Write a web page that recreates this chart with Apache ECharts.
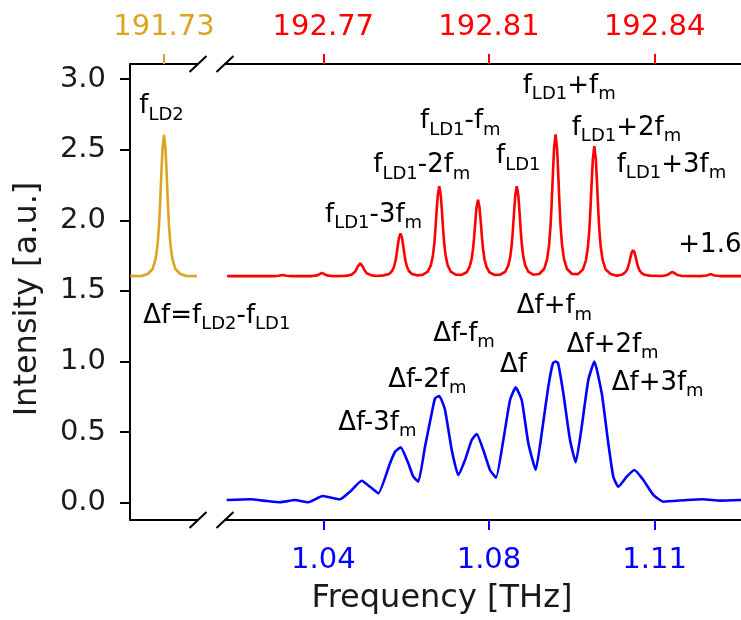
<!DOCTYPE html>
<html>
<head>
<meta charset="utf-8">
<script src="https://cdn.jsdelivr.net/npm/echarts@6/dist/echarts.min.js"></script>
<style>html,body{margin:0;padding:0;background:#fff}#chart{width:741px;height:620px}</style>
</head>
<body>
<div id="chart"></div>
<script>
// ---------------- data ----------------
const yTickVals = [0, 0.5, 1, 1.5, 2, 2.5, 3];
const yTickLabels = ['0.0', '0.5', '1.0', '1.5', '2.0', '2.5', '3.0'];
const ld2TickVals = [191.73];
const ld2TickLabels = ['191.73'];
const topTickVals = [192.77167, 192.805, 192.83833];
const topTickLabels = ['192.77', '192.81', '192.84'];
const bottomTickVals = [1.04167, 1.075, 1.10833];
const bottomTickLabels = ['1.04', '1.08', '1.11'];

// LD2 spectrum (top-left axis, THz), offset +1.6
const ld2Spectrum = [
  [191.7232,1.605],[191.7255,1.606],[191.7267,1.620],[191.7277,1.655],[191.7283,1.725],[191.7287,1.825],
  [191.7290,1.965],[191.7292,2.105],[191.7295,2.355],[191.7297,2.505],[191.7300,2.605],[191.7303,2.505],
  [191.7305,2.355],[191.7308,2.105],[191.7310,1.965],[191.7313,1.825],[191.7317,1.725],[191.7323,1.655],
  [191.7333,1.620],[191.7345,1.606],[191.7366,1.605]
];

// LD1 comb spectrum (top-right axis, THz), offset +1.6
const ld1Spectrum = [
  [192.7523,1.605],
  [192.7617,1.605],[192.7627,1.607],[192.7631,1.610],[192.7635,1.612],[192.7639,1.610],[192.7643,1.607],[192.7653,1.605],
  [192.7694,1.605],[192.7704,1.610],[192.7709,1.618],[192.7714,1.628],[192.7719,1.618],[192.7724,1.610],[192.7734,1.605],
  [192.7758,1.606],[192.7768,1.610],[192.7774,1.616],[192.7778,1.625],[192.7781,1.637],[192.7783,1.650],[192.7786,1.673],[192.7788,1.686],
  [192.7791,1.695],[192.7794,1.686],[192.7796,1.673],[192.7799,1.650],[192.7801,1.637],[192.7804,1.625],[192.7808,1.616],[192.7814,1.610],[192.7824,1.606],
  [192.7839,1.610],[192.7849,1.620],[192.7855,1.641],[192.7859,1.671],[192.7862,1.714],[192.7864,1.756],[192.7867,1.832],[192.7869,1.877],
  [192.7872,1.907],[192.7875,1.877],[192.7877,1.832],[192.7880,1.756],[192.7882,1.714],[192.7885,1.671],[192.7889,1.641],[192.7895,1.620],[192.7905,1.610],
  [192.7917,1.615],[192.7927,1.637],[192.7933,1.681],[192.7937,1.745],[192.7940,1.834],[192.7942,1.924],[192.7945,2.083],[192.7947,2.178],
  [192.7950,2.242],[192.7953,2.178],[192.7955,2.083],[192.7958,1.924],[192.7960,1.834],[192.7963,1.745],[192.7967,1.681],[192.7973,1.637],[192.7983,1.615],
  [192.7995,1.613],[192.8005,1.632],[192.8011,1.670],[192.8015,1.724],[192.8018,1.799],[192.8020,1.875],[192.8023,2.010],[192.8025,2.091],
  [192.8028,2.145],[192.8031,2.091],[192.8033,2.010],[192.8036,1.875],[192.8038,1.799],[192.8041,1.724],[192.8045,1.670],[192.8051,1.632],[192.8061,1.613],
  [192.8073,1.615],[192.8083,1.637],[192.8089,1.681],[192.8093,1.745],[192.8096,1.834],[192.8098,1.924],[192.8101,2.083],[192.8103,2.178],
  [192.8106,2.242],[192.8109,2.178],[192.8111,2.083],[192.8114,1.924],[192.8116,1.834],[192.8119,1.745],[192.8123,1.681],[192.8129,1.637],[192.8139,1.615],
  [192.8151,1.620],[192.8161,1.655],[192.8167,1.725],[192.8171,1.826],[192.8174,1.966],[192.8176,2.107],[192.8179,2.357],[192.8181,2.508],
  [192.8184,2.608],[192.8187,2.508],[192.8189,2.357],[192.8192,2.107],[192.8194,1.966],[192.8197,1.826],[192.8201,1.725],[192.8207,1.655],[192.8217,1.620],
  [192.8229,1.619],[192.8239,1.651],[192.8245,1.715],[192.8249,1.807],[192.8252,1.936],[192.8254,2.065],[192.8257,2.295],[192.8259,2.433],
  [192.8262,2.525],[192.8265,2.433],[192.8267,2.295],[192.8270,2.065],[192.8272,1.936],[192.8275,1.807],[192.8279,1.715],[192.8285,1.651],[192.8295,1.619],
  [192.8307,1.608],[192.8317,1.614],[192.8323,1.627],[192.8327,1.645],[192.8330,1.671],[192.8332,1.697],[192.8335,1.743],[192.8337,1.771],
  [192.8340,1.789],[192.8343,1.771],[192.8345,1.743],[192.8348,1.697],[192.8350,1.671],[192.8353,1.645],[192.8357,1.627],[192.8363,1.614],[192.8373,1.608],
  [192.8399,1.606],[192.8409,1.613],[192.8414,1.624],[192.8419,1.635],[192.8424,1.624],[192.8429,1.613],[192.8439,1.606],
  [192.8478,1.605],[192.8488,1.609],[192.8492,1.614],[192.8496,1.619],[192.8500,1.614],[192.8504,1.609],[192.8514,1.605],
  [192.8558,1.605]
];

// Beat (difference-frequency) spectrum (bottom-right axis, THz)
const beatSpectrum = [
  [1.02223,0.019],[1.02692,0.024],[1.03028,0.012],[1.03296,0.003],[1.03598,0.019],[1.03865,0.003],
  [1.04155,0.047],[1.04503,0.024],[1.04704,0.078],[1.04940,0.156],[1.05107,0.113],[1.05274,0.066],
  [1.05509,0.279],[1.05610,0.361],[1.05724,0.392],[1.05877,0.279],[1.05978,0.184],[1.06079,0.149],
  [1.06213,0.397],[1.06348,0.633],[1.06415,0.739],[1.06501,0.756],[1.06616,0.657],[1.06751,0.373],
  [1.06883,0.196],[1.07018,0.302],[1.07153,0.444],[1.07254,0.487],[1.07386,0.373],[1.07521,0.232],
  [1.07642,0.177],[1.07789,0.444],[1.07924,0.727],[1.08038,0.817],[1.08159,0.727],[1.08292,0.421],
  [1.08441,0.232],[1.08561,0.491],[1.08694,0.822],[1.08789,0.990],[1.08843,0.999],[1.08889,0.990],
  [1.08996,0.775],[1.09131,0.444],[1.09246,0.286],[1.09366,0.538],[1.09499,0.869],[1.09620,0.999],
  [1.09769,0.775],[1.09901,0.421],[1.10002,0.184],[1.10103,0.113],[1.10272,0.184],[1.10425,0.232],
  [1.10606,0.161],[1.10807,0.055],[1.11008,0.007],[1.11479,0.019],[1.11813,0.024],[1.12149,0.015],
  [1.12571,0.019]
];

// annotation texts (mathtext-like: _{...} = subscript)
const annotationTexts = [
  'f_{LD2}', 'Δf=f_{LD2}-f_{LD1}',
  'f_{LD1}-3f_{m}', 'f_{LD1}-2f_{m}', 'f_{LD1}-f_{m}', 'f_{LD1}', 'f_{LD1}+f_{m}', 'f_{LD1}+2f_{m}', 'f_{LD1}+3f_{m}', '+1.6',
  'Δf-3f_{m}', 'Δf-2f_{m}', 'Δf-f_{m}', 'Δf', 'Δf+f_{m}', 'Δf+2f_{m}', 'Δf+3f_{m}'
];

// ---------------- layout / style ----------------
const annotationPos = [
  [139.3,113.3],[143.3,322.7],
  [325,221.7],[373.3,172.3],[420,128.3],[496,163.3],[522.7,92.5],[571.7,135],[616.7,171.7],[678.3,251.7],
  [338.3,430],[388.3,386.7],[433.3,341],[500,371.7],[516.7,313.3],[566.7,351.7],[611.7,390]
];
const FONT = '"DejaVu Sans", sans-serif';
const GOLD = '#DAA520', RED = '#FF0000', BLUE = '#0000FF';
const G = { top: 64, bottom: 520, leftL: 130, rightL: 198, leftR: 225, W: 741, H: 620 };
const Y_MIN = -0.1225, Y_MAX = 3.107;
const MAIN_FS = 26, SUB_FS = 18, SUB_SHIFT = 6.3;

const ctx = document.createElement('canvas').getContext('2d');
function measure(text, fs) { ctx.font = fs + 'px ' + FONT; ctx.textBaseline = 'middle'; return ctx.measureText(text); }
const dMain = measure('H', MAIN_FS).actualBoundingBoxDescent;
const dSub = measure('H', SUB_FS).actualBoundingBoxDescent;

function parseTokens(s) {
  const out = []; const re = /_\{([^}]*)\}/g; let last = 0, m;
  while ((m = re.exec(s))) { if (m.index > last) out.push([s.slice(last, m.index), false]); out.push([m[1], true]); last = re.lastIndex; }
  if (last < s.length) out.push([s.slice(last), false]);
  return out;
}
const graphics = [];
annotationTexts.forEach((t, i) => {
  let [x, base] = annotationPos[i];
  parseTokens(t).forEach(([txt, sub]) => {
    const fs = sub ? SUB_FS : MAIN_FS;
    const y = sub ? base + SUB_SHIFT - dSub : base - dMain;
    graphics.push({ type: 'text', x: x, y: y, silent: true,
      style: { text: txt, fontSize: fs, fontFamily: FONT, fill: '#000', align: 'left', verticalAlign: 'middle' } });
    x += measure(txt, fs).width;
  });
});
// broken-axis marks
[G.rightL, G.leftR].forEach(cx => [G.top, G.bottom].forEach(cy => {
  graphics.push({ type: 'line', silent: true, shape: { x1: cx - 8.5, y1: cy + 8, x2: cx + 8.5, y2: cy - 8 },
    style: { stroke: '#000', lineWidth: 2 } });
}));
// axis titles
graphics.push({ type: 'text', x: 442, y: 599, silent: true,
  style: { text: 'Frequency [THz]', fontSize: 32, fontFamily: FONT, fill: '#1a1a1a', align: 'center', verticalAlign: 'middle' } });
graphics.push({ type: 'text', x: 28, y: 299, rotation: Math.PI / 2, silent: true,
  style: { text: 'Intensity [a.u.]', fontSize: 32, fontFamily: FONT, fill: '#1a1a1a', align: 'center', verticalAlign: 'middle' } });

function fmt(vals, labels) {
  return v => { let bi = 0, bd = Infinity; vals.forEach((t, i) => { const d = Math.abs(t - v); if (d < bd) { bd = d; bi = i; } }); return labels[bi]; };
}
const lineAxis = { show: true, onZero: false, lineStyle: { color: '#000', width: 2 } };

const option = {
  animation: false,
  backgroundColor: '#fff',
  grid: [
    { left: G.leftL, width: G.rightL - G.leftL, top: G.top, height: G.bottom - G.top },
    { left: G.leftR, width: G.W - G.leftR, top: G.top, height: G.bottom - G.top }
  ],
  xAxis: [
    { gridIndex: 0, type: 'value', position: 'top', min: 191.72316, max: 191.73684, axisLine: lineAxis,
      axisTick: { show: true, customValues: ld2TickVals, length: 10, lineStyle: { color: GOLD, width: 2 } },
      axisLabel: { customValues: ld2TickVals, formatter: fmt(ld2TickVals, ld2TickLabels), color: GOLD, fontSize: 29, fontFamily: FONT, margin: 22 },
      splitLine: { show: false } },
    { gridIndex: 0, type: 'value', position: 'bottom', min: 191.72316, max: 191.73684, axisLine: lineAxis,
      axisTick: { show: false }, axisLabel: { show: false }, splitLine: { show: false } },
    { gridIndex: 1, type: 'value', position: 'top', min: 192.75189, max: 192.85571, axisLine: lineAxis,
      axisTick: { show: true, customValues: topTickVals, length: 10, lineStyle: { color: RED, width: 2 } },
      axisLabel: { customValues: topTickVals, formatter: fmt(topTickVals, topTickLabels), color: RED, fontSize: 29, fontFamily: FONT, margin: 22 },
      splitLine: { show: false } },
    { gridIndex: 1, type: 'value', position: 'bottom', min: 1.02189, max: 1.12571, axisLine: lineAxis,
      axisTick: { show: true, customValues: bottomTickVals, length: 10, lineStyle: { color: BLUE, width: 2 } },
      axisLabel: { customValues: bottomTickVals, formatter: fmt(bottomTickVals, bottomTickLabels), color: BLUE, fontSize: 29, fontFamily: FONT, margin: 26 },
      splitLine: { show: false } }
  ],
  yAxis: [
    { gridIndex: 0, type: 'value', min: Y_MIN, max: Y_MAX, axisLine: lineAxis,
      axisTick: { show: true, customValues: yTickVals, length: 10, lineStyle: { color: '#000', width: 2 } },
      axisLabel: { customValues: yTickVals, formatter: fmt(yTickVals, yTickLabels), color: '#1a1a1a', fontSize: 29, fontFamily: FONT, margin: 24 },
      splitLine: { show: false } },
    { gridIndex: 1, type: 'value', min: Y_MIN, max: Y_MAX, show: false, splitLine: { show: false } }
  ],
  series: [
    { type: 'line', name: 'LD2', xAxisIndex: 0, yAxisIndex: 0, data: ld2Spectrum, showSymbol: false, symbol: 'none',
      lineStyle: { color: GOLD, width: 2.6 }, silent: true },
    { type: 'line', name: 'LD1', xAxisIndex: 2, yAxisIndex: 1, data: ld1Spectrum, showSymbol: false, symbol: 'none',
      lineStyle: { color: RED, width: 2.6 }, silent: true },
    { type: 'line', name: 'beat', xAxisIndex: 3, yAxisIndex: 1, data: beatSpectrum, showSymbol: false, symbol: 'none',
      smooth: 0.15, lineStyle: { color: BLUE, width: 2.6 }, silent: true }
  ],
  graphic: graphics
};
const chart = echarts.init(document.getElementById('chart'), null, { renderer: 'canvas' });
chart.setOption(option);
</script>
</body>
</html>
